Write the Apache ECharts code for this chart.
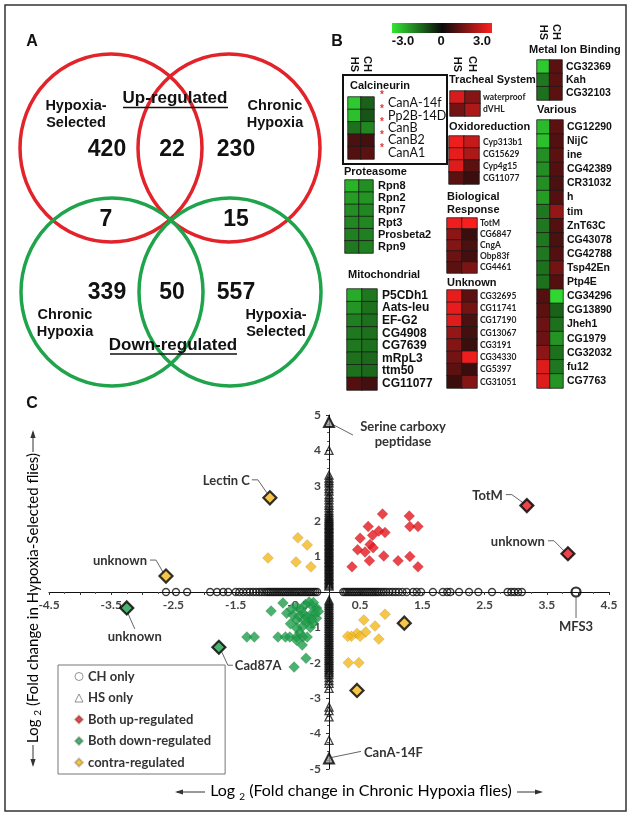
<!DOCTYPE html>
<html><head><meta charset="utf-8">
<script src="https://cdn.jsdelivr.net/npm/echarts@6/dist/echarts.min.js"></script>
<style>html,body{margin:0;padding:0;background:#fff}#c{width:635px;height:817px}</style>
</head><body><div id="c"></div>
<script>
// ================= DATA =================
// Panel A: Venn counts [HS only, both, CH only]
const vennUpCounts = [420, 22, 230];
const vennDownCounts = [339, 50, 557];
const vennContraCounts = [7, 15];

// Panel B: heatmap groups (log2 fold change, HS column / CH column)
const calcGenes = ['CanA-14f', 'Pp2B-14D', 'CanB', 'CanB2', 'CanA1'];
const calcHS = [-2.6, -2.5, -1.4, 0.8, 0.9];
const calcCH = [-1.2, -1.0, -1.7, 0.7, 1.0];

const protGenes = ['Rpn8', 'Rpn2', 'Rpn7', 'Rpt3', 'Prosbeta2', 'Rpn9'];
const protHS = [-2.3, -2.0, -1.8, -1.7, -1.6, -1.5];
const protCH = [-1.8, -1.9, -1.7, -1.7, -1.6, -1.6];

const mitoGenes = ['P5CDh1', 'Aats-leu', 'EF-G2', 'CG4908', 'CG7639', 'mRpL3', 'ttm50', 'CG11077'];
const mitoHS = [-2.2, -1.9, -1.6, -1.5, -1.5, -1.4, -1.4, 0.9];
const mitoCH = [-1.5, -1.4, -1.4, -1.4, -1.4, -1.3, -1.3, 0.7];

const trachGenes = ['waterproof', 'dVHL'];
const trachHS = [2.5, 1.3];
const trachCH = [1.5, 2.0];

const oxidoGenes = ['Cyp313b1', 'CG15629', 'Cyp4g15', 'CG11077'];
const oxidoHS = [2.8, 2.7, 2.6, 1.0];
const oxidoCH = [2.3, 2.0, 1.0, 0.6];

const bioGenes = ['TotM', 'CG6847', 'CngA', 'Obp83f', 'CG4461'];
const bioHS = [2.8, 1.6, 1.5, 1.2, 1.0];
const bioCH = [2.9, 0.6, 0.8, 0.7, 1.4];

const unkGenes = ['CG32695', 'CG11741', 'CG17190', 'CG13067', 'CG3191', 'CG34330', 'CG5397', 'CG31051'];
const unkHS = [2.7, 2.7, 2.6, 1.7, 1.5, 1.3, 1.0, 0.6];
const unkCH = [1.0, 1.3, 0.8, 0.7, 0.6, 2.8, 0.6, 1.5];

const metalGenes = ['CG32369', 'Kah', 'CG32103'];
const metalHS = [-2.6, -1.5, -1.4];
const metalCH = [1.0, 1.0, 1.0];

const varGenes = ['CG12290', 'NijC', 'ine', 'CG42389', 'CR31032', 'h', 'tim', 'ZnT63C', 'CG43078', 'CG42788',
  'Tsp42En', 'Ptp4E', 'CG34296', 'CG13890', 'Jheh1', 'CG1979', 'CG32032', 'fu12', 'CG7763'];
const varHS = [-2.4, -2.5, -1.8, -1.8, -1.8, -2.0, -1.5, -1.5, -1.5, -1.5, -1.4, -1.4, 0.9, 1.0, 1.2, 1.2, 1.6, 2.6, 2.6];
const varCH = [1.0, 0.9, 1.0, 0.9, 0.8, 0.9, 1.7, 0.9, 0.8, 0.9, 1.3, 0.9, -2.8, -1.2, -1.4, -1.9, -1.4, -1.5, -1.9];

const colorbarTicks = ['-3.0', '0', '3.0'];

// Panel C: scatter (x = log2 FC chronic hypoxia, y = log2 FC hypoxia-selected)
const chOnlyX = [-2.62, -2.46, -2.28, -1.91, -1.8, -1.7, -1.62, -1.5, -1.44, -1.38, -1.32, -1.27, -1.22, -1.17, -1.12,
  -1.08, -1.04, -1.0, -0.97, -0.94, -0.91, -0.88, -0.85, -0.82, -0.79, -0.76, -0.73, -0.7, -0.67, -0.64, -0.61,
  -0.58, -0.55, -0.52, -0.49, -0.46, -0.43, -0.4, -0.37, -0.34, -0.31, -0.28, -0.25, -0.22, -0.19,
  0.23, 0.26, 0.29, 0.32, 0.35, 0.38, 0.41, 0.44, 0.47, 0.5, 0.53, 0.56, 0.59, 0.62, 0.65, 0.68, 0.71, 0.74,
  0.77, 0.8, 0.84, 0.88, 0.92, 0.97, 1.02, 1.07, 1.12, 1.18, 1.25, 1.35, 1.41, 1.48, 1.67, 1.83, 1.9, 1.95,
  2.09, 2.25, 2.4, 2.62, 2.87, 2.93, 2.98, 3.04, 3.1];
const chOnlyMarked = [3.97];

const hsOnlyY = [4.0, 3.3, 3.22, 3.15, 3.08, 3.0, 2.92, 2.85, 2.75, 2.68, 2.6, 2.52, 2.45, 2.38, 2.3, 2.24,
  2.18, 2.13, 2.08, 2.04, 2.0, 1.96, 1.92, 1.88, 1.84, 1.8, 1.76, 1.72, 1.68, 1.64, 1.6, 1.56, 1.52, 1.48, 1.44,
  1.4, 1.36, 1.32, 1.28, 1.24, 1.2, 1.16, 1.12, 1.08, 1.04, 1.0, 0.96, 0.92, 0.88, 0.84, 0.8, 0.76, 0.72, 0.68,
  0.64, 0.6, 0.56, 0.52, 0.48, 0.44, 0.4, 0.36, 0.32, 0.28, 0.24, 0.2, 0.17,
  -0.23, -0.28, -0.33, -0.38, -0.43, -0.48, -0.53, -0.58, -0.63, -0.68, -0.73, -0.78, -0.83, -0.88, -0.93,
  -0.98, -1.03, -1.08, -1.13, -1.18, -1.23, -1.28, -1.33, -1.38, -1.43, -1.48, -1.53, -1.58, -1.63, -1.68,
  -1.73, -1.78, -1.83, -1.88, -1.93, -1.98, -2.03, -2.08, -2.13, -2.18, -2.23, -2.28, -2.33, -2.42, -2.5,
  -2.58, -2.72, -3.25, -3.35, -3.53, -4.19];
const hsOnlyMarked = [4.8, -4.7];

const bothUp = [[0.86, 2.2], [1.29, 2.15], [0.63, 1.85], [1.3, 1.85], [1.43, 1.85], [0.8, 1.72], [0.9, 1.68],
  [0.7, 1.6], [0.5, 1.52], [0.66, 1.34], [0.71, 1.25], [0.46, 1.19], [0.58, 1.13], [0.88, 1.02], [1.3, 1.0],
  [0.65, 0.88], [1.11, 0.88], [0.37, 0.71], [1.43, 0.71]];
const bothUpMarked = [[3.18, 2.44], [3.84, 1.08]];

const bothDown = [[-0.74, -0.31], [-0.93, -0.54], [-0.52, -0.42], [-0.32, -0.28], [-0.26, -0.42], [-0.68, -0.6],
  [-0.58, -0.65], [-0.42, -0.6], [-0.3, -0.65], [-0.22, -0.6], [-0.52, -0.79], [-0.35, -0.85], [-0.26, -0.88],
  [-0.43, -0.98], [-0.52, -1.02], [-0.2, -0.74], [-0.38, -0.35], [-0.45, -0.5], [-0.36, -0.7], [-0.28, -0.78],
  [-0.2, -0.45], [-0.6, -0.48], [-0.48, -0.68], [-0.3, -1.0], [-0.4, -0.8], [-0.25, -0.3], [-0.62, -0.9],
  [-0.47, -1.15], [-0.17, -0.55], [-1.32, -1.27], [-1.2, -1.27], [-0.82, -1.27], [-0.7, -1.27], [-0.63, -1.27],
  [-0.52, -1.27], [-0.42, -1.27], [-0.35, -1.27], [-0.43, -1.5], [-0.52, -1.36], [-0.37, -1.87], [-0.56, -2.12]];
const bothDownMarked = [[-3.25, -0.45], [-1.77, -1.56]];

const contra = [[-0.5, 1.53], [-0.35, 1.33], [-0.98, 0.96], [-0.53, 0.85], [-0.29, 0.71], [0.9, -0.63],
  [0.56, -0.79], [0.74, -0.96], [0.59, -1.13], [0.45, -1.17], [0.36, -1.25], [0.5, -1.25], [0.3, -1.25],
  [0.8, -1.33], [0.31, -2.0], [0.48, -2.0]];
const contraMarked = [[-0.95, 2.66], [-2.62, 0.45], [1.21, -0.88], [0.45, -2.78]];

const annoTexts = ['Serine carboxy\npeptidase', 'Lectin C', 'TotM', 'unknown', 'unknown', 'unknown', 'Cad87A', 'MFS3', 'CanA-14F'];
const annoPoints = [[0, 4.8], [-0.95, 2.66], [3.18, 2.44], [3.84, 1.08], [-2.62, 0.45], [-3.25, -0.45], [-1.77, -1.56], [3.97, 0], [0, -4.7]];

const legendNames = ['CH only', 'HS only', 'Both up-regulated', 'Both down-regulated', 'contra-regulated'];

const X_RANGE = [-4.5, 4.5];
const Y_RANGE = [-5, 5];

// ================= STYLE =================
const F_AR = '"Liberation Sans", Arial, sans-serif';
const F_LT = 'Lato, "Open Sans", sans-serif';
const RED = '#e3232a', GRN = '#1fa34b';
const HM_COLORS = ['#33e633', '#0a0a0a', '#ff1f1f'];
const C_UP = '#e5161d', C_DOWN = '#1e9e4a', C_CONTRA = '#f4b81d';

const chart = echarts.init(document.getElementById('c'));

// ---------- heatmap groups ----------
const hmGroups = [
  { g: calcGenes, hs: calcHS, ch: calcCH, box: [348, 97, 26, 62], head: true, hm: 25, lm: 14, font: { fontFamily: F_LT, fontSize: 12.5, fontWeight: 'normal', color: '#111' } },
  { g: protGenes, hs: protHS, ch: protCH, box: [345, 180, 28, 73], head: false, lm: 5, font: { fontFamily: F_AR, fontSize: 11, fontWeight: 'bold', color: '#111' } },
  { g: mitoGenes, hs: mitoHS, ch: mitoCH, box: [347, 289, 30, 101], head: false, lm: 5, font: { fontFamily: F_AR, fontSize: 12, fontWeight: 'bold', color: '#111' } },
  { g: trachGenes, hs: trachHS, ch: trachCH, box: [450, 91, 30, 25], head: true, hm: 19, lm: 3, font: { fontFamily: F_LT, fontSize: 8.5, fontWeight: 'bold', color: '#222' } },
  { g: oxidoGenes, hs: oxidoHS, ch: oxidoCH, box: [449, 136, 30, 48], head: false, lm: 4, font: { fontFamily: F_LT, fontSize: 8.5, fontWeight: 'bold', color: '#222' } },
  { g: bioGenes, hs: bioHS, ch: bioCH, box: [447, 218, 30, 55], head: false, lm: 3, font: { fontFamily: F_LT, fontSize: 8.5, fontWeight: 'bold', color: '#222' } },
  { g: unkGenes, hs: unkHS, ch: unkCH, box: [447, 290, 30, 98], head: false, lm: 3, font: { fontFamily: F_LT, fontSize: 8.5, fontWeight: 'bold', color: '#222' } },
  { g: metalGenes, hs: metalHS, ch: metalCH, box: [537, 60, 25, 40], head: true, hm: 20, lm: 4, font: { fontFamily: F_AR, fontSize: 10.5, fontWeight: 'bold', color: '#111' } },
  { g: varGenes, hs: varHS, ch: varCH, box: [537, 120, 26, 268], head: false, lm: 4, font: { fontFamily: F_AR, fontSize: 10.5, fontWeight: 'bold', color: '#111' } }
];

const SC = { left: 49, top: 415, width: 560, height: 354 };
// axes cross at the origin: shift axes from the grid edge to the zero line
const xAxisShift = -SC.height * (0 - Y_RANGE[0]) / (Y_RANGE[1] - Y_RANGE[0]);
const yAxisShift = -SC.width * (0 - X_RANGE[0]) / (X_RANGE[1] - X_RANGE[0]);

const grids = [SC];
const xAxes = [{
  type: 'value', gridIndex: 0, min: X_RANGE[0], max: X_RANGE[1], interval: 0.5, position: 'bottom', offset: xAxisShift,
  axisLine: { onZero: false, lineStyle: { color: '#111', width: 1 } },
  axisTick: { show: true, length: 3, lineStyle: { color: '#333' } },
  minorTick: { show: true, splitNumber: 2, length: 2, lineStyle: { color: '#555' } },
  splitLine: { show: false },
  axisLabel: {
    margin: 7, fontFamily: F_LT, fontWeight: 'bold', fontSize: 12, color: '#444',
    formatter: v => (Math.abs(Math.round(v * 2)) % 2 === 1 ? v.toFixed(1) : '')
  }
}];
const yAxes = [{
  type: 'value', gridIndex: 0, min: Y_RANGE[0], max: Y_RANGE[1], interval: 1, position: 'left', offset: yAxisShift,
  axisLine: { onZero: false, lineStyle: { color: '#111', width: 1 } },
  axisTick: { show: true, length: 3, lineStyle: { color: '#333' } },
  minorTick: { show: true, splitNumber: 4, length: 2, lineStyle: { color: '#555' } },
  splitLine: { show: false },
  axisLabel: {
    margin: 8, fontFamily: F_LT, fontWeight: 'bold', fontSize: 12, color: '#444',
    formatter: v => (v === 0 ? '' : String(v))
  }
}];
const series = [];
const hmSeriesIdx = [];

hmGroups.forEach((grp, i) => {
  const gi = i + 1;
  grids.push({ left: grp.box[0], top: grp.box[1], width: grp.box[2], height: grp.box[3] });
  xAxes.push({
    type: 'category', gridIndex: gi, data: ['HS', 'CH'], position: 'top',
    axisLine: { show: false }, axisTick: { show: false },
    axisLabel: { show: grp.head, interval: 0, rotate: 90, margin: grp.hm || 8, fontFamily: F_AR, fontWeight: 'bold', fontSize: 11, color: '#111' }
  });
  yAxes.push({
    type: 'category', gridIndex: gi, data: grp.g, inverse: true, position: 'right',
    axisLine: { show: false }, axisTick: { show: false },
    axisLabel: Object.assign({ margin: grp.lm, interval: 0 }, grp.font)
  });
  const d = [];
  grp.g.forEach((name, r) => { d.push([0, r, grp.hs[r]]); d.push([1, r, grp.ch[r]]); });
  hmSeriesIdx.push(series.length);
  series.push({
    type: 'heatmap', xAxisIndex: gi, yAxisIndex: gi, data: d, silent: true,
    itemStyle: { borderColor: '#1a1a1a', borderWidth: 0.8 },
    emphasis: { disabled: true }
  });
});

// ---------- scatter series ----------
const mk = (arr, extra) => arr.map(v => Object.assign({ value: v }, extra));
series.push({
  type: 'scatter', name: 'CH only', xAxisIndex: 0, yAxisIndex: 0, symbol: 'circle', symbolSize: 7, silent: true,
  itemStyle: { color: 'rgba(255,255,255,0)', borderColor: '#111', borderWidth: 1.3 },
  data: chOnlyX.map(x => [x, 0]).concat(mk(chOnlyMarked.map(x => [x, 0]), { symbolSize: 9, itemStyle: { borderColor: '#000', borderWidth: 2.2 } }))
});
series.push({
  type: 'scatter', name: 'HS only', xAxisIndex: 0, yAxisIndex: 0, symbol: 'triangle', symbolSize: 8, silent: true,
  itemStyle: { color: 'rgba(255,255,255,0)', borderColor: '#111', borderWidth: 1.3 },
  data: hsOnlyY.map(y => [0, y]).concat(mk(hsOnlyMarked.map(y => [0, y]), { symbolSize: 10, itemStyle: { color: '#999', borderColor: '#000', borderWidth: 2 } }))
});
const markStyle = { symbolSize: 13, itemStyle: { borderColor: '#000', borderWidth: 2.2 } };
series.push({
  type: 'scatter', name: 'Both up-regulated', xAxisIndex: 0, yAxisIndex: 0, symbol: 'diamond', symbolSize: 11, silent: true,
  itemStyle: { color: C_UP, borderColor: 'rgba(0,0,0,0.25)', borderWidth: 0.5 },
  data: bothUp.concat(mk(bothUpMarked, markStyle))
});
series.push({
  type: 'scatter', name: 'Both down-regulated', xAxisIndex: 0, yAxisIndex: 0, symbol: 'diamond', symbolSize: 11, silent: true,
  itemStyle: { color: C_DOWN, borderColor: 'rgba(0,0,0,0.25)', borderWidth: 0.5 },
  data: bothDown.concat(mk(bothDownMarked, markStyle))
});
series.push({
  type: 'scatter', name: 'contra-regulated', xAxisIndex: 0, yAxisIndex: 0, symbol: 'diamond', symbolSize: 11, silent: true,
  itemStyle: { color: C_CONTRA, borderColor: 'rgba(0,0,0,0.25)', borderWidth: 0.5 },
  data: contra.concat(mk(contraMarked, markStyle))
});

const legendIcons = [
  { icon: 'circle', itemStyle: { color: '#fff', borderColor: '#777', borderWidth: 1 } },
  { icon: 'triangle', itemStyle: { color: '#fff', borderColor: '#777', borderWidth: 1 } },
  { icon: 'diamond', itemStyle: { color: C_UP } },
  { icon: 'diamond', itemStyle: { color: C_DOWN } },
  { icon: 'diamond', itemStyle: { color: C_CONTRA } }
];

const option = {
  animation: false,
  backgroundColor: '#fff',
  grid: grids, xAxis: xAxes, yAxis: yAxes, series: series,
  visualMap: {
    show: false, type: 'continuous', min: -3, max: 3, dimension: 2, seriesIndex: hmSeriesIdx,
    inRange: { color: HM_COLORS }
  },
  legend: {
    orient: 'vertical', left: 58, top: 665, itemGap: 8.5, itemWidth: 8, itemHeight: 8,
    padding: [5, 14, 5, 16], borderColor: '#777', borderWidth: 1, backgroundColor: '#fff',
    textStyle: { fontFamily: F_LT, fontWeight: 'bold', fontSize: 13, color: '#333' },
    selectedMode: false,
    data: legendNames.map((n, i) => Object.assign({ name: n }, legendIcons[i]))
  }
};
chart.setOption(option);

// ================= GRAPHICS =================
const G = [];
const txt = (x, y, text, font, extra) => G.push(Object.assign({ type: 'text', x: x, y: y, silent: true, style: Object.assign({ text: text, fill: '#111', textAlign: 'center', textVerticalAlign: 'middle' }, font) }, extra || {}));
const line = (pts, stroke, w) => G.push({ type: 'polyline', silent: true, shape: { points: pts }, style: { stroke: stroke || '#555', lineWidth: w || 1, fill: null } });

// outer border
G.push({ type: 'rect', silent: true, shape: { x: 5, y: 5, width: 621, height: 806 }, style: { fill: null, stroke: '#333', lineWidth: 1.5 } });

// Panel letters
txt(32, 42, 'A', { font: 'bold 16px ' + F_AR });
txt(337, 42, 'B', { font: 'bold 16px ' + F_AR });
txt(32, 404, 'C', { font: 'bold 16px ' + F_AR });

// Venn circles
const ell = (cx, cy, col) => G.push({ type: 'circle', silent: true, x: cx, y: cy, scaleY: 94 / 91, shape: { cx: 0, cy: 0, r: 91 }, style: { fill: null, stroke: col, lineWidth: 3.5, strokeNoScale: true } });
ell(111, 148, RED); ell(229, 148, RED); ell(112, 292, GRN); ell(230, 292, GRN);

const vLab = { font: 'bold 14.5px ' + F_AR, lineHeight: 17 };
txt(76, 114.5, 'Hypoxia-\nSelected', vLab);
txt(275, 114.5, 'Chronic\nHypoxia', vLab);
txt(65, 323, 'Chronic\nHypoxia', vLab);
txt(276, 323, 'Hypoxia-\nSelected', vLab);
txt(175, 98, 'Up-regulated', { font: 'bold 17px ' + F_AR });
line([[123, 107.5], [228, 107.5]], '#111', 1.3);
txt(173, 345, 'Down-regulated', { font: 'bold 17px ' + F_AR });
line([[110, 354], [237, 354]], '#111', 1.3);
const nF = { font: 'bold 23px ' + F_AR };
txt(107, 150, String(vennUpCounts[0]), nF);
txt(172, 150, String(vennUpCounts[1]), nF);
txt(236, 150, String(vennUpCounts[2]), nF);
txt(106, 220, String(vennContraCounts[0]), nF);
txt(236, 220, String(vennContraCounts[1]), nF);
txt(107, 293, String(vennDownCounts[0]), nF);
txt(172, 293, String(vennDownCounts[1]), nF);
txt(236, 293, String(vennDownCounts[2]), nF);

// Panel B colour bar
G.push({ type: 'rect', silent: true, shape: { x: 392, y: 23, width: 100, height: 10 },
  style: { fill: new echarts.graphic.LinearGradient(0, 0, 1, 0, [{ offset: 0, color: HM_COLORS[0] }, { offset: 0.5, color: HM_COLORS[1] }, { offset: 1, color: HM_COLORS[2] }]) } });
const cbF = { font: 'bold 13px ' + F_AR };
txt(403, 41, colorbarTicks[0], cbF);
txt(441, 41, colorbarTicks[1], cbF);
txt(482, 41, colorbarTicks[2], cbF);

// Calcineurin box + asterisks
G.push({ type: 'rect', silent: true, shape: { x: 343, y: 75, width: 104, height: 89 }, style: { fill: null, stroke: '#111', lineWidth: 2 } });
[93, 107, 120, 133, 146].forEach(y => txt(382, y + 2, '*', { font: 'bold 10px ' + F_AR, fill: '#e03a3a' }));

// group titles
const tF = { font: 'bold 11px ' + F_AR, textAlign: 'left' };
txt(350, 86, 'Calcineurin', tF);
txt(344, 172, 'Proteasome', tF);
txt(348, 275, 'Mitochondrial', tF);
txt(449, 80, 'Tracheal System', tF);
txt(449, 127, 'Oxidoreduction', tF);
txt(447, 203.5, 'Biological\nResponse', Object.assign({ lineHeight: 13.5 }, tF));
txt(447, 283, 'Unknown', tF);
txt(529, 50, 'Metal Ion Binding', tF);
txt(537, 110, 'Various', tF);

// Panel C axis titles
const mkRich = (fs) => ({ a: { fontFamily: F_LT, fontSize: fs, color: '#333', lineHeight: fs + 5 }, s: { fontFamily: F_LT, fontSize: 10, color: '#333', lineHeight: 12, verticalAlign: 'bottom' } });
G.push({ type: 'text', silent: true, x: 361, y: 791, style: { text: '{a|Log }{s|2}{a| (Fold change in Chronic Hypoxia flies)}', rich: mkRich(16), textAlign: 'center', textVerticalAlign: 'middle' } });
G.push({ type: 'text', silent: true, x: 33, y: 598, rotation: Math.PI / 2, style: { text: '{a|Log }{s|2}{a| (Fold change in Hypoxia-Selected flies)}', rich: mkRich(15), textAlign: 'center', textVerticalAlign: 'middle' } });
const arrow = (x1, y1, x2, y2) => {
  line([[x1, y1], [x2, y2]], '#333', 1);
  const a = Math.atan2(y2 - y1, x2 - x1), L = 6, W = 2.6;
  G.push({ type: 'polygon', silent: true, shape: { points: [[x2 + Math.cos(a) * 2, y2 + Math.sin(a) * 2],
    [x2 - Math.cos(a) * L + Math.sin(a) * W, y2 - Math.sin(a) * L - Math.cos(a) * W],
    [x2 - Math.cos(a) * L - Math.sin(a) * W, y2 - Math.sin(a) * L + Math.cos(a) * W]] }, style: { fill: '#333' } });
};
arrow(205, 792, 177, 792);
arrow(517, 792, 541, 792);
arrow(33, 452, 33, 432);
arrow(33, 745, 33, 765);

// annotations (offsets relative to their data point)
const annoLayout = [
  { t: [74, 12.5], al: 'center', path: [[3, 2], [24, 13]] },
  { t: [-20, -17], al: 'right', path: [[-18, -18], [-12, -18], [-3, -5]] },
  { t: [-24, -10], al: 'right', path: [[-21, -11], [-15, -11], [-4, -3]] },
  { t: [-23, -12], al: 'right', path: [[-20, -13], [-14, -13], [-4, -3]] },
  { t: [-19, -15], al: 'right', path: [[-16, -16], [-10, -16], [-3, -4]] },
  { t: [8, 29], al: 'center', path: [[1, 5], [8, 21]] },
  { t: [16, 19], al: 'left', path: [[3, 5], [9, 18], [14, 18]] },
  { t: [0, 35], al: 'center', path: [[0, 5], [0, 26]] },
  { t: [35, -6], al: 'left', path: [[3, -1], [32, -7]] }
];
annoPoints.forEach((pt, i) => {
  const p = chart.convertToPixel({ gridIndex: 0 }, pt);
  const L = annoLayout[i];
  line(L.path.map(o => [p[0] + o[0], p[1] + o[1]]), '#666', 1);
  txt(p[0] + L.t[0], p[1] + L.t[1], annoTexts[i], { font: 'bold 13px ' + F_LT, fill: '#333', textAlign: L.al, lineHeight: 15 });
});

chart.setOption({ graphic: { elements: G } });
</script></body></html>
